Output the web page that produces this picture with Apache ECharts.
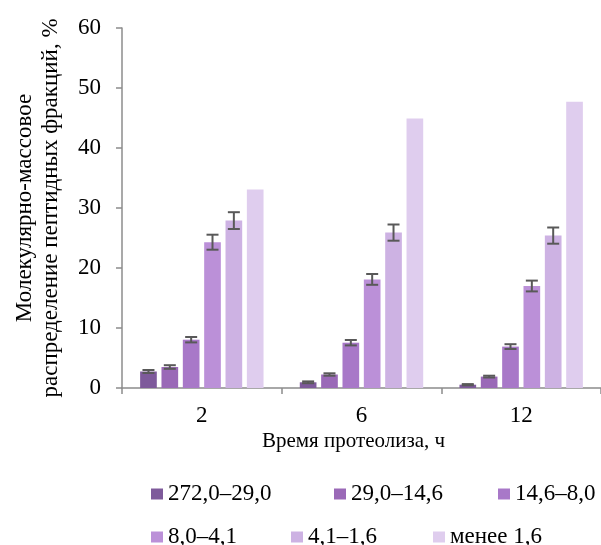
<!DOCTYPE html>
<html>
<head>
<meta charset="utf-8">
<script src="https://cdn.jsdelivr.net/npm/echarts@6/dist/echarts.min.js"></script>
<style>
html,body{margin:0;padding:0;background:#fff;}
#main{width:601px;height:545px;}
</style>
</head>
<body>
<div id="main"></div>
<script>
const categories = ['2', '6', '12'];
const seriesNames = ['272,0–29,0', '29,0–14,6', '14,6–8,0', '8,0–4,1', '4,1–1,6', 'менее 1,6'];
const s1 = [2.75, 0.95, 0.55];
const s2 = [3.5, 2.25, 1.9];
const s3 = [8.05, 7.55, 6.9];
const s4 = [24.3, 18.1, 17.0];
const s5 = [27.9, 25.9, 25.4];
const s6 = [33.1, 44.9, 47.7];
const e1 = [0.25, 0.15, 0.1];
const e2 = [0.3, 0.2, 0.15];
const e3 = [0.45, 0.45, 0.4];
const e4 = [1.25, 0.9, 0.9];
const e5 = [1.4, 1.35, 1.35];
const e6 = [0, 0, 0];
const yTicks = [0, 10, 20, 30, 40, 50, 60];

const values = [s1, s2, s3, s4, s5, s6];
const errors = [e1, e2, e3, e4, e5, e6];
const colors = ['#7e5a9b', '#9a69b7', '#a878c8', '#bb90d8', '#cdb2e3', '#dfcdee'];
const FONT = 'Liberation Serif';
const FS = 23;
const CAT_GAP = 0.227, BAR_GAP = 0.28;

const chart = echarts.init(document.getElementById('main'));

const barSeries = values.map((v, i) => ({
  name: seriesNames[i],
  type: 'bar',
  data: v,
  barCategoryGap: (CAT_GAP * 100) + '%',
  barGap: (BAR_GAP * 100) + '%',
  itemStyle: { color: colors[i] },
  silent: true
}));

const errSeries = values.map((v, i) => ({
  type: 'custom',
  silent: true,
  z: 5,
  data: v.map((val, j) => [j, val, errors[i][j]]),
  renderItem: function (params, api) {
    const err = api.value(2);
    if (!err) return null;
    const c = api.value(0), val = api.value(1);
    const catW = api.size([1, 0])[0];
    const bw = catW * (1 - CAT_GAP) / (6 + 5 * BAR_GAP);
    const step = bw * (1 + BAR_GAP);
    const off = (i - 2.5) * step;
    const hi = api.coord([c, val + err]);
    const lo = api.coord([c, val - err]);
    const x = hi[0] + off;
    const cap = 6;
    const st = { stroke: '#595959', lineWidth: 2 };
    return {
      type: 'group',
      children: [
        { type: 'line', shape: { x1: x, y1: hi[1], x2: x, y2: lo[1] }, style: st },
        { type: 'line', shape: { x1: x - cap, y1: hi[1], x2: x + cap, y2: hi[1] }, style: st },
        { type: 'line', shape: { x1: x - cap, y1: lo[1], x2: x + cap, y2: lo[1] }, style: st }
      ]
    };
  }
}));

const legendPos = [
  [151, 482], [334, 482], [498, 482],
  [151, 525], [291, 525], [433, 525]
];
const legends = seriesNames.map((n, i) => ({
  data: [n],
  left: legendPos[i][0],
  top: legendPos[i][1],
  padding: 0,
  itemWidth: 12,
  itemHeight: 11,
  icon: 'rect',
  selectedMode: false,
  textStyle: { fontFamily: FONT, fontSize: FS, color: '#000', lineHeight: 24 }
}));

chart.setOption({
  animation: false,
  backgroundColor: '#fff',
  grid: { left: 122, top: 28, height: 360, width: 490, containLabel: false },
  legend: legends,
  xAxis: {
    type: 'category',
    data: categories,
    axisLine: { lineStyle: { color: '#8c8c8c', width: 1.5 } },
    axisTick: { show: true, length: 6, lineStyle: { color: '#8c8c8c', width: 1.5 } },
    axisLabel: { fontFamily: FONT, fontSize: FS, color: '#000', margin: 16 }
  },
  yAxis: {
    type: 'value',
    min: yTicks[0],
    max: yTicks[yTicks.length - 1],
    interval: 10,
    name: 'Молекулярно-массовое\nраспределение пептидных фракций, %',
    nameLocation: 'middle',
    nameGap: 58,
    nameTextStyle: { fontFamily: FONT, fontSize: FS, color: '#000', lineHeight: 26 },
    splitLine: { show: false },
    axisLine: { show: true, lineStyle: { color: '#8c8c8c', width: 1.5 } },
    axisTick: { show: true, length: 6, lineStyle: { color: '#8c8c8c', width: 1.5 } },
    axisLabel: { fontFamily: FONT, fontSize: FS, color: '#000', margin: 21 }
  },
  graphic: [{
    type: 'text',
    left: 262,
    top: 431,
    style: { text: 'Время протеолиза, ч', font: '21px "Liberation Serif"', fill: '#000' }
  }],
  series: barSeries.concat(errSeries)
});
</script>
</body>
</html>
